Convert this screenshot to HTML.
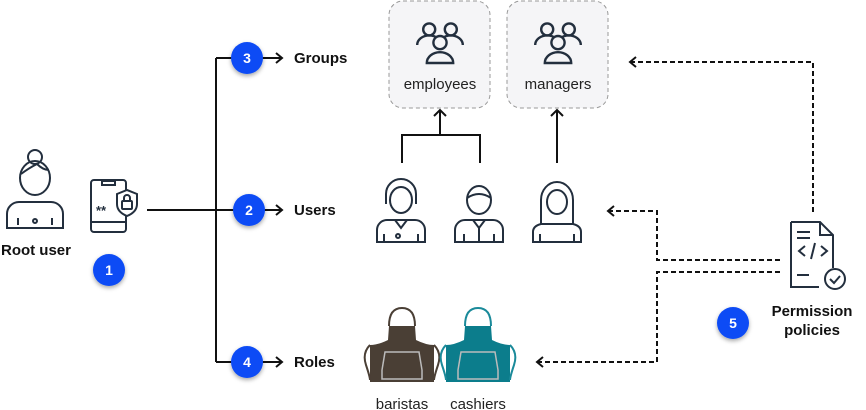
<!DOCTYPE html>
<html><head><meta charset="utf-8"><style>
html,body{margin:0;padding:0;background:#fff}
svg{display:block}
text{font-family:"Liberation Sans",sans-serif}
</style></head><body>
<svg width="866" height="410" viewBox="0 0 866 410" xmlns="http://www.w3.org/2000/svg">
<defs>
<filter id="sh" x="-50%" y="-50%" width="200%" height="200%"><feDropShadow dx="0" dy="2" stdDeviation="2" flood-color="#000" flood-opacity="0.35"/></filter>
</defs>
<g stroke="#111" stroke-width="2" fill="none">
<path d="M147 210H216M216 58V362M216 58H282M216 210H282M216 362H282"/>
<path d="M276 53l6 5-6 5M276 205l6 5-6 5M276 357l6 5-6 5"/>
<path d="M402 163V135H480V163M440 135V110M434 116l6-6 6 6M557 163V110M551 116l6-6 6 6"/>
</g>
<g stroke="#111" stroke-width="2" fill="none" stroke-dasharray="5 3">
<path d="M813 212V62H630"/>
<path d="M780 260H657V211H609"/>
<path d="M780 272H657V362H538"/>
</g>
<g stroke="#111" stroke-width="2" fill="none">
<path d="M636 57l-6 5 6 5M614 206l-6 5 6 5M543 357l-6 5 6 5"/>
</g>
<rect x="389" y="1" width="101" height="107" rx="14" fill="#f5f5f7" stroke="#999" stroke-dasharray="4 3"/>
<rect x="507" y="1" width="101" height="107" rx="14" fill="#f5f5f7" stroke="#999" stroke-dasharray="4 3"/>
<g stroke="#232f3e" stroke-width="2" fill="none">
<g transform="translate(440,45) scale(1.2)"><circle cx="-9" cy="-13" r="5"/><circle cx="9" cy="-13" r="5"/><path d="M-19 0a10 8 0 0 1 20 0M-1 0a10 8 0 0 1 20 0"/><circle cx="0" cy="-2" r="5.5" fill="#f5f5f7"/><path d="M-11 15a11 9 0 0 1 22 0z" fill="#f5f5f7"/></g>
<g transform="translate(558,45) scale(1.2)"><circle cx="-9" cy="-13" r="5"/><circle cx="9" cy="-13" r="5"/><path d="M-19 0a10 8 0 0 1 20 0M-1 0a10 8 0 0 1 20 0"/><circle cx="0" cy="-2" r="5.5" fill="#f5f5f7"/><path d="M-11 15a11 9 0 0 1 22 0z" fill="#f5f5f7"/></g>
</g>
<text x="440" y="89" font-size="15" text-anchor="middle" fill="#222">employees</text>
<text x="558" y="89" font-size="15" text-anchor="middle" fill="#222">managers</text>
<g stroke="#232f3e" stroke-width="2" fill="none">
<g transform="translate(401,212)"><path d="M-15 -8V-18a15 15 0 0 1 30 0V-8"/><ellipse cx="0" cy="-12" rx="11" ry="13"/><path d="M-24 30V18a10 10 0 0 1 10-10H14a10 10 0 0 1 10 10V30z"/><path d="M-17 22v7M17 22v7M-6 8l6 8 6-8"/><circle cx="-3" cy="24" r="2"/></g>
<g transform="translate(479,212)"><ellipse cx="0" cy="-12" rx="12" ry="14"/><path d="M-12 -14q12 -8 24 0"/><path d="M-24 30V18a10 10 0 0 1 10-10H14a10 10 0 0 1 10 10V30z"/><path d="M-15 22v7M15 22v7M-6 8l6 8 6-8M0 16v13"/></g>
<g transform="translate(557,212)"><path d="M-16 12V-12a16 18 0 0 1 32 0V12z"/><ellipse cx="0" cy="-10" rx="10" ry="12"/><path d="M-24 30V20q0-6 8-8H16q8 2 8 8V30z"/><path d="M-17 22v7M17 22v7"/></g>
<g transform="translate(35,190)"><circle cx="0" cy="-33" r="7"/><ellipse cx="0" cy="-12" rx="15" ry="17"/><path d="M-14 -16q8 -6 16 -10 6 6 12 6"/><path d="M-28 38V24a12 12 0 0 1 12-12H16a12 12 0 0 1 12 12V38z"/><path d="M-17 28v7M17 28v7"/><circle cx="0" cy="31" r="2"/></g>
<rect x="91" y="180" width="35" height="52" rx="3"/><path d="M102 181h13v4h-13zM91 222h35"/>
<path d="M117 194l10-4 10 4v10q0 8-10 12-10-4-10-12z" fill="#fff"/><rect x="122" y="201" width="10" height="8" rx="1"/><path d="M124 201v-3a3 3 0 0 1 6 0v3"/>
<path d="M791 222H820L833 235V268M819 287H791V222M820 222V235H833"/>
<path d="M797 232h13M797 238h13M797 275h12M805 246l-6 5 6 5M821 246l6 5-6 5M815 243l-4 16"/>
<circle cx="835" cy="279" r="10"/><path d="M830 279l4 4 6-7"/>
</g>
<text x="101" y="215" font-size="13" font-weight="bold" fill="#232f3e" text-anchor="middle">**</text>
<g transform="translate(402,0)">
<path d="M-13 326q0-18 13-18t13 18" stroke="#4a3f35" stroke-width="2" fill="none"/>
<path d="M-13 326H13L14 340Q24 345 32 345V382H-32V345Q-24 345 -14 340Z" fill="#4a3f35"/>
<path d="M-32 345q-8 8 -4 20t4 15M32 345q8 8 4 20t-4 15" stroke="#4a3f35" stroke-width="2" fill="none"/>
<path d="M-17 352h34l3 18v9h-40v-9z" stroke="#bbb" fill="none" stroke-width="1.5"/>
</g>
<g transform="translate(478,0)">
<path d="M-13 326q0-18 13-18t13 18" stroke="#1a8a9a" stroke-width="2" fill="none"/>
<path d="M-13 326H13L14 340Q24 345 32 345V382H-32V345Q-24 345 -14 340Z" fill="#0c7d8c"/>
<path d="M-32 345q-8 8 -4 20t4 15M32 345q8 8 4 20t-4 15" stroke="#1a8a9a" stroke-width="2" fill="none"/>
<path d="M-17 352h34l3 18v9h-40v-9z" stroke="#bbb" fill="none" stroke-width="1.5"/>
</g>
<text x="402" y="409" font-size="15" text-anchor="middle" fill="#222">baristas</text>
<text x="478" y="409" font-size="15" text-anchor="middle" fill="#222">cashiers</text>
<g font-size="15" font-weight="bold" fill="#111">
<text x="294" y="63">Groups</text>
<text x="294" y="215">Users</text>
<text x="294" y="367">Roles</text>
<text x="36" y="255" text-anchor="middle">Root user</text>
<text x="812" y="316" text-anchor="middle">Permission</text>
<text x="812" y="335" text-anchor="middle">policies</text>
</g>
<g filter="url(#sh)" fill="#0a4cf5">
<circle cx="247" cy="58" r="16"/><circle cx="249" cy="210" r="16"/><circle cx="247" cy="362" r="16"/><circle cx="109" cy="270" r="16"/><circle cx="733" cy="323" r="16"/>
</g>
<g font-size="14" font-weight="bold" fill="#fff" text-anchor="middle">
<text x="247" y="63">3</text><text x="249" y="215">2</text><text x="247" y="367">4</text><text x="109" y="275">1</text><text x="733" y="328">5</text>
</g>
</svg>
</body></html>
